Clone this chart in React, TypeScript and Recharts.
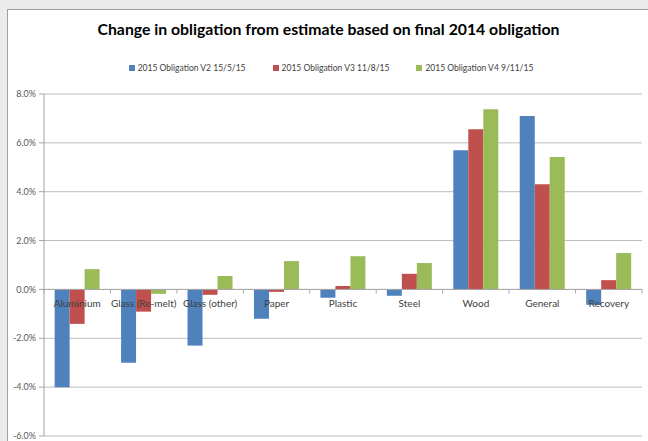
import React from "react";
import {
  BarChart,
  Bar,
  XAxis,
  YAxis,
  CartesianGrid,
  ReferenceLine,
} from "recharts";

const categories = [
  "Aluminium",
  "Glass (Re-melt)",
  "Glass (other)",
  "Paper",
  "Plastic",
  "Steel",
  "Wood",
  "General",
  "Recovery",
];

const v2Values = [-4.0, -3.0, -2.3, -1.2, -0.34, -0.26, 5.7, 7.1, -0.63];
const v3Values = [-1.41, -0.91, -0.22, -0.1, 0.14, 0.64, 6.56, 4.31, 0.38];
const v4Values = [0.83, -0.18, 0.55, 1.16, 1.36, 1.08, 7.38, 5.42, 1.49];

const yTicks = [-6, -4, -2, 0, 2, 4, 6, 8];

const seriesNames = [
  "2015 Obligation V2 15/5/15",
  "2015 Obligation V3 11/8/15",
  "2015 Obligation V4 9/11/15",
];
const seriesColors = ["#4f81bd", "#c0504d", "#9bbb59"];

const FONT = "Lato, 'Open Sans', sans-serif";
const W = 648;
const H = 441;
const X_AXIS_H = 1;
const MARGIN = { top: 94, right: 6, bottom: 5 - X_AXIS_H, left: 0 };
const Y_AXIS_W = 44;
const PLOT_W = W - MARGIN.left - MARGIN.right - Y_AXIS_W;
const PLOT_H = H - MARGIN.top - MARGIN.bottom - X_AXIS_H;
const Y_MIN = -6;
const Y_MAX = 8;
// distance from plot bottom up to the zero line
const ZERO_RISE = (PLOT_H * (0 - Y_MIN)) / (Y_MAX - Y_MIN);

const data = categories.map((name, i) => ({
  name,
  v2: v2Values[i],
  v3: v3Values[i],
  v4: v4Values[i],
}));

function CategoryTick(props: any) {
  const { x, y, payload, index } = props;
  const band = PLOT_W / categories.length;
  const zeroY = y - ZERO_RISE;
  const i = index ?? payload.index;
  return (
    <g>
      <line x1={x - band / 2} x2={x - band / 2} y1={zeroY} y2={zeroY + 4} stroke="#a6a6a6" />
      {i === categories.length - 1 && (
        <line x1={x + band / 2} x2={x + band / 2} y1={zeroY} y2={zeroY + 4} stroke="#a6a6a6" />
      )}
      <text
        x={x}
        y={zeroY + 18}
        textAnchor="middle"
        fontSize={10}
        fontFamily={FONT}
        fill="#404040"
      >
        {payload.value}
      </text>
    </g>
  );
}

function LegendRow() {
  return (
    <div
      style={{
        position: "absolute",
        left: 0,
        top: 62,
        width: W,
        display: "flex",
        justifyContent: "center",
        gap: 27,
        fontFamily: FONT,
        fontSize: 8.5,
        lineHeight: "12px",
        color: "#404040",
        paddingLeft: 14,
        boxSizing: "border-box",
      }}
    >
      {seriesNames.map((n, i) => (
        <span key={n} style={{ display: "flex", alignItems: "center", gap: 3 }}>
          <span
            style={{
              display: "inline-block",
              width: 6,
              height: 6,
              background: seriesColors[i],
            }}
          />
          {n}
        </span>
      ))}
    </div>
  );
}

export default function App() {
  return (
    <div
      style={{
        position: "fixed",
        left: 0,
        top: 0,
        width: W,
        height: H,
        overflow: "hidden",
        background: "#ebebeb",
      }}
    >
      <div
        style={{
          position: "absolute",
          left: 7,
          top: 9,
          width: 700,
          height: 500,
          background: "#ffffff",
          borderLeft: "1px solid #a0a0a0",
          borderTop: "1px solid #a0a0a0",
        }}
      />
      <div
        style={{
          position: "absolute",
          left: 0,
          top: 19,
          width: W,
          paddingLeft: 9,
          boxSizing: "border-box",
          textAlign: "center",
          fontFamily: FONT,
          fontWeight: 700,
          fontSize: 15.8,
          color: "#000000",
        }}
      >
        Change in obligation from estimate based on final 2014 obligation
      </div>
      <LegendRow />
      <div style={{ position: "absolute", left: 0, top: 0 }}>
        <BarChart
          width={W}
          height={H}
          data={data}
          margin={MARGIN}
          barCategoryGap="16%"
          barGap={0}
        >
          <CartesianGrid vertical={false} stroke="#bcbcbc" />
          <XAxis
            dataKey="name"
            axisLine={false}
            tickLine={false}
            tickSize={0}
            tickMargin={0}
            height={X_AXIS_H}
            interval={0}
            tick={<CategoryTick />}
          />
          <YAxis
            width={Y_AXIS_W}
            domain={[Y_MIN, Y_MAX]}
            ticks={yTicks}
            tickFormatter={(v: number) => v.toFixed(1) + "%"}
            axisLine={{ stroke: "#a6a6a6" }}
            tickLine={{ stroke: "#a6a6a6" }}
            tickSize={5}
            tickMargin={3}
            tick={{ fontSize: 9, fill: "#595959", fontFamily: FONT }}
          />
          <ReferenceLine y={0} stroke="#a6a6a6" />
          <Bar dataKey="v2" name={seriesNames[0]} fill={seriesColors[0]} isAnimationActive={false} />
          <Bar dataKey="v3" name={seriesNames[1]} fill={seriesColors[1]} isAnimationActive={false} />
          <Bar dataKey="v4" name={seriesNames[2]} fill={seriesColors[2]} isAnimationActive={false} />
        </BarChart>
      </div>
    </div>
  );
}
